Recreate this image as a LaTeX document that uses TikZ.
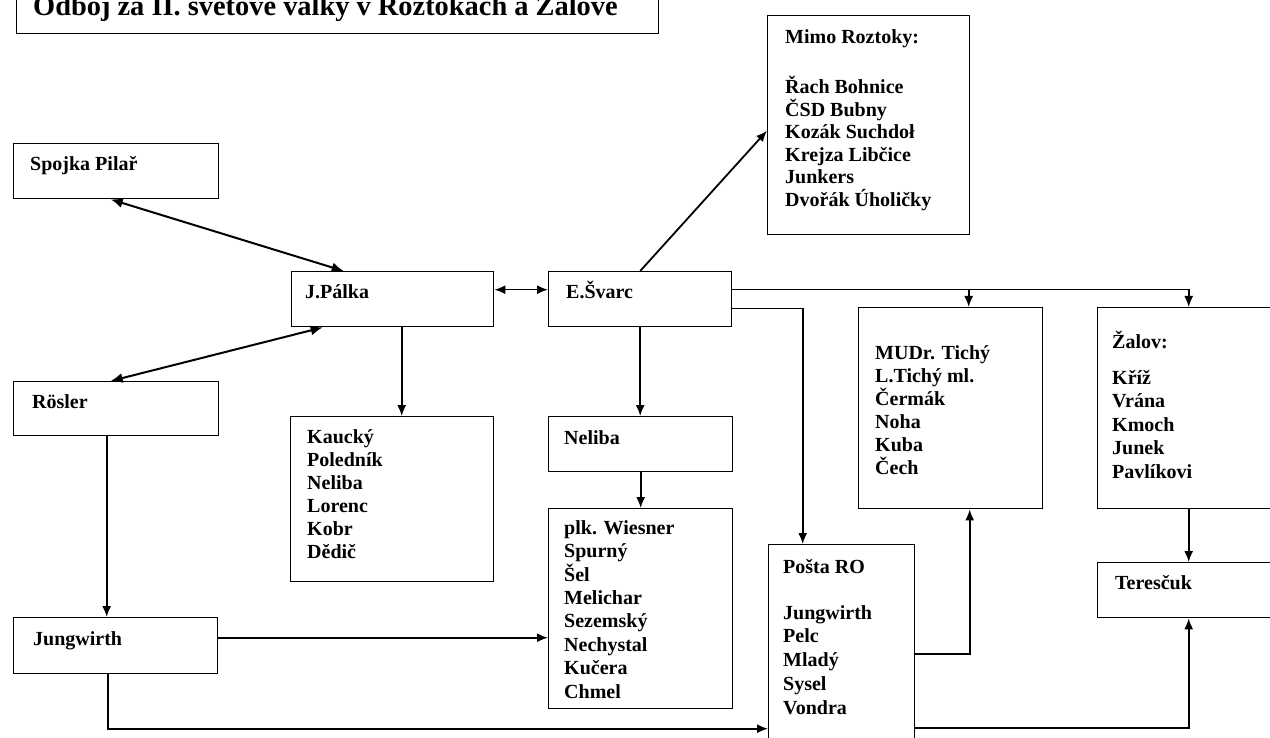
\documentclass[tikz,border=0pt]{standalone}
\usepackage{fontspec}
\setmainfont{Liberation Serif}
\usetikzlibrary{arrows.meta}
\begin{document}
\begin{tikzpicture}[x=1pt,y=-1pt,
  box/.style={draw=black, line width=1.4pt, rectangle, inner sep=0pt, anchor=north west},
  txt/.style={anchor=base west, inner sep=0pt, align=left, font=\bfseries\fontsize{20}{23}\selectfont},
  conn/.style={line width=1.6pt, -{Latex[length=11pt,width=9pt]}},
  dconn/.style={line width=2pt, {Latex[length=12pt,width=10pt]}-{Latex[length=12pt,width=10pt]}}]
\useasboundingbox (0,0) rectangle (1270,738);
\fill[white] (0,0) rectangle (1270,738);
\clip (0,0) rectangle (1270,738);

% title
\node[box, minimum width=642pt, minimum height=53pt] (titlebox) at (16,-20) {};
\node[anchor=base west, inner sep=0pt, font=\bfseries\fontsize{28.4}{30}\selectfont] (titletext) at (33,16) {Odboj za II. světové války v Roztokách a Žalově};

% boxes
\node[box, minimum width=205pt, minimum height=55pt] (spojka) at (13,143) {};
\node[box, minimum width=205pt, minimum height=54pt] (rosler) at (13,381) {};
\node[box, minimum width=204pt, minimum height=56pt] (jung) at (13,617) {};
\node[box, minimum width=202pt, minimum height=55pt] (palka) at (291,271) {};
\node[box, minimum width=203pt, minimum height=165pt] (kaucky) at (290,416) {};
\node[box, minimum width=183pt, minimum height=55pt] (svarc) at (548,271) {};
\node[box, minimum width=184pt, minimum height=55pt] (neliba) at (548,416) {};
\node[box, minimum width=184pt, minimum height=200pt] (wiesner) at (548,508) {};
\node[box, minimum width=202pt, minimum height=219pt] (mimo) at (767,15) {};
\node[box, minimum width=146pt, minimum height=201pt] (posta) at (768,544) {};
\node[box, minimum width=184pt, minimum height=201pt] (mudr) at (858,307) {};
\node[box, minimum width=178pt, minimum height=201pt] (zalov) at (1097,307) {};
\node[box, minimum width=178pt, minimum height=55pt] (teres) at (1097,562) {};

% texts (multi-line nodes: base = baseline of the last line)
\node[txt] (spojka-t) at (30,171) {Spojka Pilař};
\node[txt] (rosler-t) at (32,408) {Rösler};
\node[txt] (jung-t) at (33,645) {Jungwirth};
\node[txt] (palka-t) at (305,299) {J.Pálka};
\node[txt] (kaucky-t) at (307,558) {Kaucký\\Poledník\\Neliba\\Lorenc\\Kobr\\Dědič};
\node[txt] (svarc-t) at (566,299) {E.Švarc};
\node[txt] (neliba-t) at (564,444) {Neliba};
\node[txt, font=\bfseries\fontsize{20}{23.4}\selectfont] (wiesner-t) at (564,698) {plk. Wiesner\\Spurný\\Šel\\Melichar\\Sezemský\\Nechystal\\Kučera\\Chmel};
\node[txt, font=\bfseries\fontsize{20}{22.5}\selectfont] (mimo-t) at (785,206.5) {Mimo Roztoky:\\[27.5pt]Řach Bohnice\\ČSD Bubny\\Kozák Suchdoł\\Krejza Libčice\\Junkers\\Dvořák Úholičky};
\node[txt, font=\bfseries\fontsize{20}{23.7}\selectfont] (posta-t) at (783,714) {Pošta RO\\[22.3pt]Jungwirth\\Pelc\\Mladý\\Sysel\\Vondra};
\node[txt] (mudr-t) at (875,474) {MUDr. Tichý\\L.Tichý ml.\\Čermák\\Noha\\Kuba\\Čech};
\node[txt, font=\bfseries\fontsize{20}{23.5}\selectfont] (zalov-t) at (1112,478) {Žalov:\\[12.5pt]Kříž\\Vrána\\Kmoch\\Junek\\Pavlíkovi};
\node[txt] (teres-t) at (1115,589) {Teresčuk};

% connectors
\draw[dconn] ([xshift=-5.5pt]spojka.south) -- ([xshift=-49pt]palka.north);
\draw[dconn] ([xshift=-5.5pt]rosler.north) -- ([xshift=-70pt]palka.south);
\draw[conn, {Latex[length=11pt,width=9pt]}-{Latex[length=11pt,width=9pt]}] ([yshift=9.5pt]palka.east) -- ([yshift=9.5pt]palka.east -| svarc.west);
\draw[conn] ([xshift=9pt]palka.south) -- ([xshift=9pt]palka.south |- kaucky.north);
\draw[conn, line width=1.8pt] (svarc.north) -- ([yshift=-5.5pt]mimo.west);
\draw[conn] (svarc.south) -- (svarc.south |- neliba.north);
\draw[conn] (neliba.south) -- (neliba.south |- wiesner.north);
\coordinate (s1) at ([yshift=9.5pt]svarc.east);
\draw[conn] (s1) -| ([xshift=18pt]mudr.north);
\draw[conn] (s1) -| ([xshift=2pt]zalov.north);
\draw[conn] ([yshift=-9.5pt]svarc.east) -| ([xshift=-39pt]posta.north);
\draw[conn] ([xshift=-9.5pt]rosler.south) -- ([xshift=-9.5pt]rosler.south |- jung.north);
\draw[conn] ([yshift=8pt]jung.east) -- ([yshift=8pt]jung.east -| wiesner.west);
\draw[conn] ([xshift=-8pt]jung.south) |- ([yshift=-83.5pt]posta.west);
\draw[conn] ([yshift=-8.5pt]posta.east) -| ([xshift=19pt]mudr.south);
\draw[conn] ([yshift=-82.5pt]posta.east) -| ([xshift=2pt]teres.south);
\draw[conn] ([xshift=2pt]zalov.south) -- ([xshift=2pt]teres.north);
\end{tikzpicture}
\end{document}
